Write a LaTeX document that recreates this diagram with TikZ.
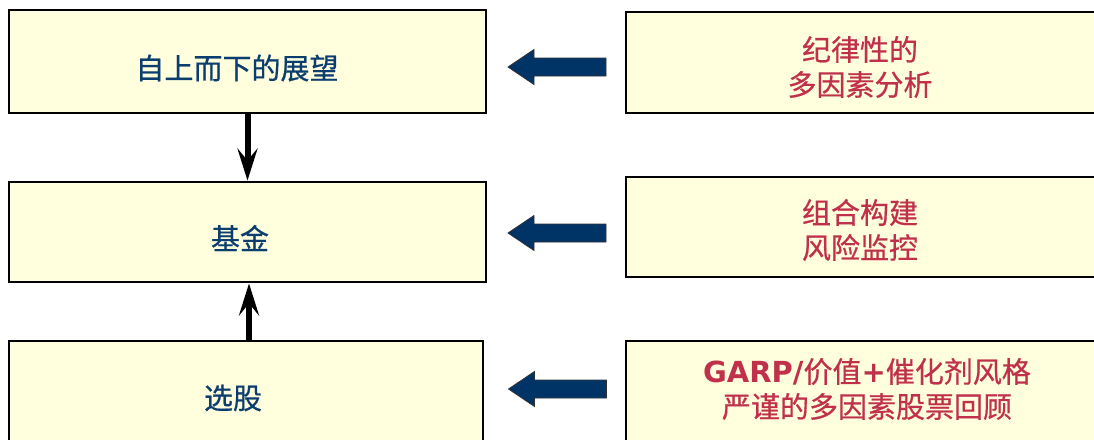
\documentclass[tikz,border=0pt]{standalone}
\usepackage{fontspec}
\setmainfont{Noto Sans CJK SC}[FakeBold=0.6]
\newfontfamily\latb{DejaVu Sans}
\usetikzlibrary{arrows.meta}
\definecolor{boxfill}{HTML}{FFFFDD}
\definecolor{navytext}{HTML}{0B3D6E}
\definecolor{redtext}{HTML}{C0304A}
\definecolor{navyarrow}{HTML}{003366}
\tikzset{
  box/.style={draw=black, line width=2.8pt, fill=boxfill, inner sep=0pt},
  lefttext/.style={text=navytext, font=\fontsize{29}{35}\selectfont, inner sep=0pt},
  righttext/.style={text=redtext, font=\fontsize{29}{35}\selectfont, align=center, inner sep=0pt},
  varrow/.style={line width=6pt, -{Stealth[length=32pt, width=20pt, inset=12pt]}},
  blockarrow/.pic={\filldraw[fill=navyarrow, draw=black!80, line width=0.8pt]
     (0,0) -- (26,-17.5) -- (26,-9) -- (98,-9) -- (98,9) -- (26,9) -- (26,17.5) -- cycle;}
}
\begin{document}
\begin{tikzpicture}[x=1pt,y=-1pt]
\useasboundingbox (0,0) rectangle (1094,439);
\clip (0,0) rectangle (1094,439);
% left boxes
\node[box, minimum width=477pt, minimum height=103pt] (L1) at (247.5,61.5) {};
\node[box, minimum width=477pt, minimum height=100pt] (L2) at (247.5,232) {};
\node[box, minimum width=474pt, minimum height=119pt] (L3) at (246,400.5) {};
% right boxes
\node[box, minimum width=472pt, minimum height=101pt] (R1) at (862,62.5) {};
\node[box, minimum width=472pt, minimum height=100pt] (R2) at (862,227) {};
\node[box, minimum width=472pt, minimum height=119pt] (R3) at (862,400.5) {};
% texts
\node[lefttext] (T1) at (237,68) {自上而下的展望};
\node[lefttext] (T2) at (240,238) {基金};
\node[lefttext] (T3) at (233,398) {选股};
\node[righttext] (T4) at (860,67) {纪律性的\\多因素分析};
\node[righttext] (T5) at (860,230) {组合构建\\风险监控};
\node[righttext] (T6) at (867,389) {{\latb\bfseries GARP/}价值{\latb\bfseries +}催化剂风格\\严谨的多因素股票回顾};
% vertical connectors
\draw[varrow] (L1.south) -- (L2.north);
\draw[varrow] ([xshift=3pt]L3.north) -- ([xshift=1.5pt]L2.south);
% block arrows
\coordinate (A1) at (508,67);
\coordinate (A2) at (508,233);
\coordinate (A3) at (508.5,389);
\pic at (A1) {blockarrow};
\pic at (A2) {blockarrow};
\pic at (A3) {blockarrow};
\end{tikzpicture}
\end{document}
